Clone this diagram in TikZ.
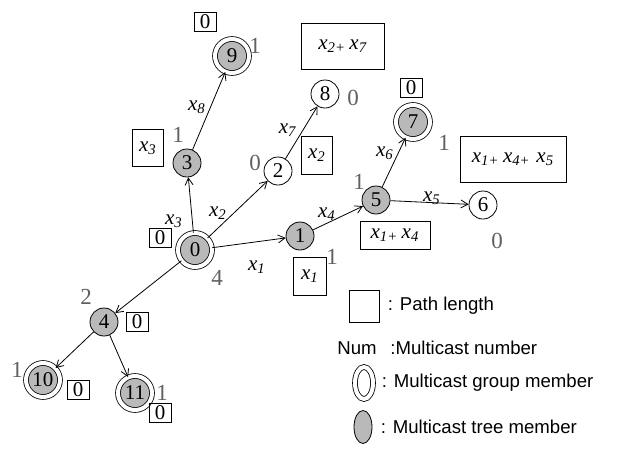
\documentclass[tikz,border=0pt]{standalone}
\usepackage{fontspec}
\setmainfont{Liberation Serif}
\newfontfamily\legendfont{Liberation Sans}
\usetikzlibrary{arrows.meta,positioning,shapes.geometric}
\newcommand{\xv}[1]{\textit{x}\textsubscript{\textit{#1}}}

\begin{document}
\begin{tikzpicture}[x=0.5pt, y=-0.5pt, >={Straight Barb[length=3.5pt,width=4pt]},
  every node/.style={font=\fontsize{10.5}{12}\selectfont},
  router/.style={circle, draw, minimum size=14pt, inner sep=0pt},
  tree/.style={router, fill=gray!55},
  member/.style={tree, minimum size=17pt, double, double distance=2pt},
  plen/.style={draw, inner sep=1pt, minimum width=11pt, minimum height=9.5pt},
  mnum/.style={text=gray!75!black, font=\fontsize{11.5}{13}\selectfont},
  link/.style={->, thin},
  legend/.style={font=\legendfont\fontsize{9.3}{11}\selectfont, inner sep=1pt}]
  \useasboundingbox (0,0) rectangle (626,450);
  % routers
  \node[member] (n0) at (195,250) {0};
  \node[tree] (n1) at (300,236) {1};
  \node[router] (n2) at (278,171) {2};
  \node[tree] (n3) at (187,163) {3};
  \node[tree] (n4) at (104,322) {4};
  \node[tree] (n5) at (376,200) {5};
  \node[router] (n6) at (483,205) {6};
  \node[member] (n7) at (413,122) {7};
  \node[router] (n8) at (325,94) {8};
  \node[member] (n9) at (232,56) {9};
  \node[member] (n10) at (43,380) {10};
  \node[member] (n11) at (135,393) {11};
  % links
  \draw[link] (n0) -- (n1);
  \draw[link] (n0) -- (n2);
  \draw[link] (n0) -- (n3);
  \draw[link] (n0) -- (n4);
  \draw[link] (n3) -- (n9);
  \draw[link] (n2) -- (n8);
  \draw[link] (n1) -- (n5);
  \draw[link] (n5) -- (n7);
  \draw[link] (n5) -- (n6);
  \draw[link] (n4) -- (n10);
  \draw[link] (n4) -- (n11);
  % link weights
  \node (w1) at (257,267) {\xv{1}};
  \node (w2) at (218,213) {\xv{2}};
  \node (w3) at (174,221) {\xv{3}};
  \node (w4) at (327,214) {\xv{4}};
  \node (w5) at (432,198) {\xv{5}};
  \node (w6) at (385,153) {\xv{6}};
  \node (w7) at (288,130) {\xv{7}};
  \node (w8) at (197,107) {\xv{8}};
  % path lengths
  \node[plen] (p9) at (205,22) {0};
  \node[plen, minimum width=15.5pt, minimum height=18.5pt] (p3) at (148,148) {\xv{3}};
  \node[plen, minimum width=41.5pt, minimum height=23pt] (p8) at (343,46) {\xv{2+}\,\xv{7}};
  \node[plen, minimum width=15.5pt, minimum height=19pt] (p2) at (317,155) {\xv{2}};
  \node[plen] (p7) at (411,88) {0};
  \node[plen, minimum width=53pt, minimum height=23pt] (p6) at (513,159) {\xv{1+}\,\xv{4+}\;\xv{5}};
  \node[plen, minimum width=35pt, minimum height=14pt] (p5) at (395,235) {\xv{1+}\,\xv{4}};
  \node[plen, minimum width=16.5pt, minimum height=19pt] (p1) at (310,276) {\xv{1}};
  \node[plen] (p0) at (160,238) {0};
  \node[plen] (p4) at (137,322) {0};
  \node[plen] (p10) at (78,390) {0};
  \node[plen] (p11) at (160,413) {0};
  % multicast numbers
  \node[mnum] (m9) at (255,46) {1};
  \node[mnum] (m3) at (178,135) {1};
  \node[mnum] (m2) at (255,163) {0};
  \node[mnum] (m8) at (353,98) {0};
  \node[mnum] (m7) at (444,143) {1};
  \node[mnum] (m5) at (359,182) {1};
  \node[mnum] (m6) at (497,241) {0};
  \node[mnum] (m1) at (332,257) {1};
  \node[mnum] (m0) at (217,278) {4};
  \node[mnum] (m4) at (86,297) {2};
  \node[mnum] (m10) at (17,370) {1};
  \node[mnum] (m11) at (162,393) {1};
  % legend
  \node[draw, minimum width=15pt, minimum height=16pt] (keybox) at (364,306) {};
  \node[legend, right=3pt of keybox] (keyplen) {: Path length};
  \node[legend] (keynum) at (357,348) {Num};
  \node[legend, anchor=west] (keynumtxt) at (388,348) {:Multicast number};
  \node[ellipse, draw, double, double distance=2pt, minimum width=9pt, minimum height=16pt, inner sep=0pt] (keymember) at (364,383) {};
  \node[legend, right=3pt of keymember] (keymembertxt) {: Multicast group member};
  \node[ellipse, draw, fill=gray!55, minimum width=9pt, minimum height=16.5pt, inner sep=0pt] (keytree) at (363,427) {};
  \node[legend, right=3pt of keytree] (keytreetxt) {: Multicast tree member};
\end{tikzpicture}
\end{document}
